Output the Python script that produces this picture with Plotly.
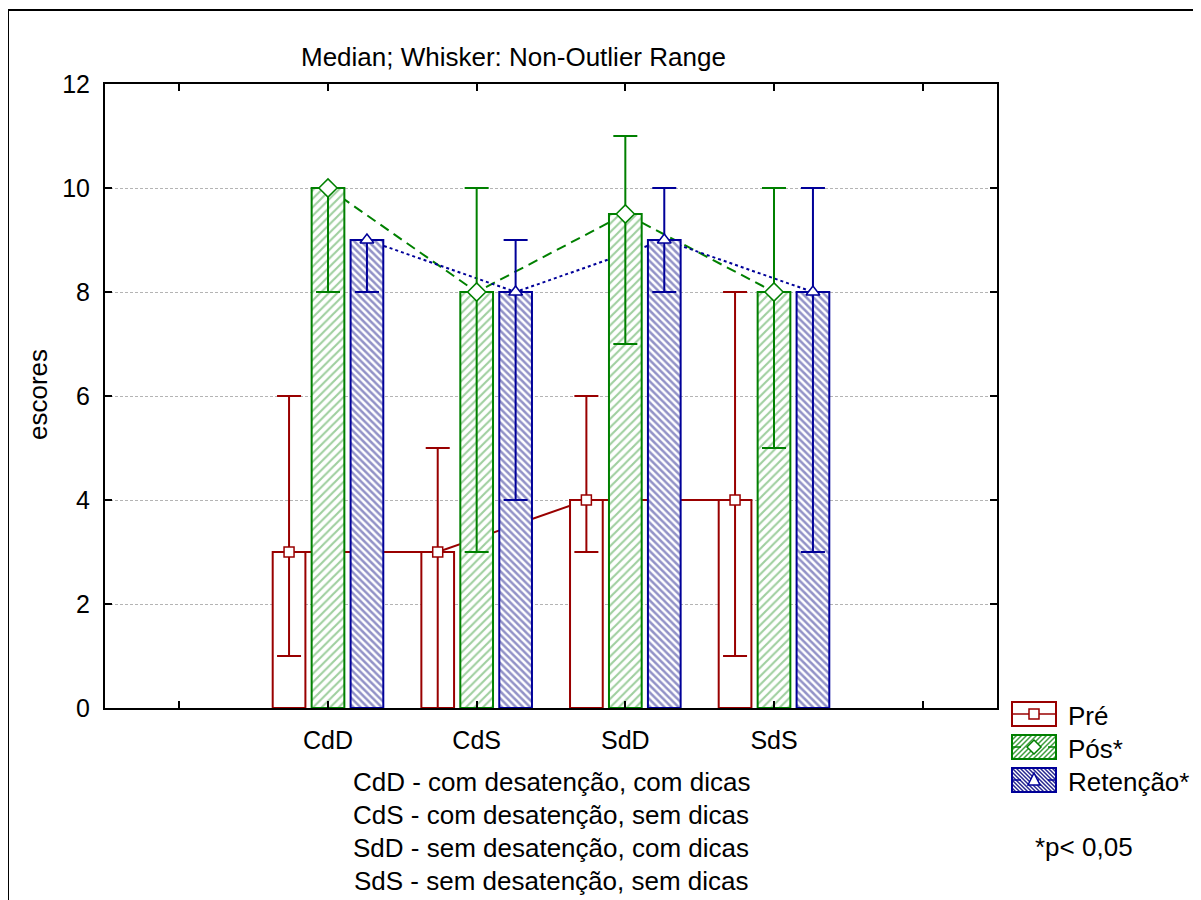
import plotly.graph_objects as go

# ---------------- data ----------------
categories = ["CdD", "CdS", "SdD", "SdS"]
pre_med = [3, 3, 4, 4]
pre_lo = [1, 0, 3, 1]
pre_hi = [6, 5, 6, 8]
pos_med = [10, 8, 9.5, 8]
pos_lo = [8, 3, 7, 5]
pos_hi = [10, 10, 11, 10]
ret_med = [9, 8, 9, 8]
ret_lo = [8, 4, 8, 3]
ret_hi = [9, 9, 10, 10]
series_names = ["Pré", "Pós*", "Retenção*"]
footnotes = [
    "CdD - com desatenção, com dicas",
    "CdS - com desatenção, sem dicas",
    "SdD - sem desatenção, com dicas",
    "SdS - sem desatenção, sem dicas",
]

# ---------------- style ----------------
FONT = "Arial, Liberation Sans, sans-serif"
RED, GREEN, BLUE = "#990000", "#008000", "#000099"
PAGE_OFF = 8  # page body margin
PL, PR, PT, PB = 105, 997, 84, 708
W, H = PR - PL, PB - PT
OFF, BW = 0.262, 0.22
TXT = 26


def px(x):
    return (x - PL) / W


def py(y):
    return (PB - y) / H


cat_x = [i + 1 for i in range(len(categories))]

series = [
    dict(name=series_names[0], med=pre_med, lo=pre_lo, hi=pre_hi, off=-OFF, color=RED,
         pattern=None, symbol="square", msize=10, dash="solid"),
    dict(name=series_names[1], med=pos_med, lo=pos_lo, hi=pos_hi, off=0.0, color=GREEN,
         pattern=dict(shape="/", fgcolor="#3f9f3f", bgcolor="white", size=6, solidity=0.35),
         symbol="diamond", msize=14, dash="10px,6px"),
    dict(name=series_names[2], med=ret_med, lo=ret_lo, hi=ret_hi, off=OFF, color=BLUE,
         pattern=dict(shape="\\", fgcolor="#26268f", bgcolor="white", size=5, solidity=0.5),
         symbol="triangle-up", msize=12, dash="3px,3px"),
]

fig = go.Figure()

# connecting lines (base subplot, drawn beneath bars)
for s in series:
    xs = [c + s["off"] for c in cat_x]
    fig.add_trace(go.Scatter(x=xs, y=s["med"], mode="lines", xaxis="x", yaxis="y",
                             line=dict(color=s["color"], width=2, dash=s["dash"]),
                             hoverinfo="skip", showlegend=False))

# bars with whiskers (overlay subplot)
for s in series:
    xs = [c + s["off"] for c in cat_x]
    marker = dict(color="white", line=dict(color=s["color"], width=2))
    if s["pattern"]:
        marker["pattern"] = s["pattern"]
    fig.add_trace(go.Bar(
        x=xs, y=s["med"], width=BW, xaxis="x2", yaxis="y2", marker=marker,
        error_y=dict(type="data", symmetric=False,
                     array=[h - m for h, m in zip(s["hi"], s["med"])],
                     arrayminus=[m - l for m, l in zip(s["med"], s["lo"])],
                     color=s["color"], thickness=2, width=12),
        showlegend=False, name=s["name"]))

# median markers on top
for s in series:
    xs = [c + s["off"] for c in cat_x]
    fig.add_trace(go.Scatter(x=xs, y=s["med"], mode="markers", xaxis="x2", yaxis="y2",
                             marker=dict(symbol=s["symbol"], size=s["msize"], color="white",
                                         line=dict(color=s["color"], width=1.5)),
                             showlegend=False, name=s["name"]))

axis_common = dict(showline=True, linewidth=2, linecolor="black", mirror="ticks",
                   ticks="inside", ticklen=7, tickwidth=2, tickcolor="black",
                   zeroline=False, tickfont=dict(family=FONT, size=25, color="black"))

fig.update_layout(
    width=1201, height=900,
    margin=dict(l=PL - PAGE_OFF, r=1201 - (PR - PAGE_OFF), t=PT - PAGE_OFF,
                b=900 - (PB - PAGE_OFF)),
    paper_bgcolor="white", plot_bgcolor="white",
    showlegend=False, barmode="overlay",
    font=dict(family=FONT, size=TXT, color="black"),
    xaxis=dict(range=[-0.5, 5.5], tickmode="array", tickvals=[0] + cat_x + [5],
               ticktext=[""] + categories + [""], showgrid=False,
               ticklabelstandoff=9, **axis_common),
    yaxis=dict(range=[0, 12], tickmode="linear", tick0=0, dtick=2, showgrid=True,
               gridcolor="#b4b4b4", gridwidth=1, griddash="3px,2px",
               ticklabelstandoff=8, **axis_common),
    xaxis2=dict(range=[-0.5, 5.5], overlaying="x", anchor="y2", visible=False),
    yaxis2=dict(range=[0, 12], overlaying="y", anchor="x2", visible=False),
)

annotations = [
    dict(text="Median; Whisker: Non-Outlier Range", x=px(513), y=py(57),
         xref="paper", yref="paper", showarrow=False, font=dict(size=TXT),
         xanchor="center", yanchor="middle"),
    dict(text="escores", x=px(38), y=py(395), xref="paper", yref="paper",
         showarrow=False, textangle=-90, font=dict(size=TXT),
         xanchor="center", yanchor="middle"),
    dict(text="*p< 0,05", x=px(1033), y=py(847), xref="paper", yref="paper",
         showarrow=False, font=dict(size=TXT), xanchor="left", yanchor="middle"),
]
for i, t in enumerate(footnotes):
    annotations.append(dict(text=t, x=px(551), y=py(782 + 33 * i), xref="paper", yref="paper",
                            showarrow=False, font=dict(size=TXT),
                            xanchor="center", yanchor="middle"))

shapes = [
    # outer frame
    dict(type="path", xref="paper", yref="paper",
         path=f"M {px(8)},{py(920)} L {px(8)},{py(10)} L {px(1220)},{py(10)}",
         line=dict(color="black", width=2)),
]

# legend
LX0, LX1 = 1012, 1056
centers = [714, 747, 780]
for s, cy in zip(series, centers):
    y0, y1 = cy - 12, cy + 12
    if s["pattern"]:
        seg = []
        if s["pattern"]["shape"] == "/":
            step = 5
            c = LX0 + y0
            while c < LX1 + y1:
                xs_ = max(LX0, c - y1)
                xe_ = min(LX1, c - y0)
                if xs_ < xe_:
                    seg.append(f"M {px(xs_)},{py(c - xs_)} L {px(xe_)},{py(c - xe_)}")
                c += step
        else:
            step = 4
            d = y0 - LX1
            while d < y1 - LX0:
                xs_ = max(LX0, y0 - d)
                xe_ = min(LX1, y1 - d)
                if xs_ < xe_:
                    seg.append(f"M {px(xs_)},{py(xs_ + d)} L {px(xe_)},{py(xe_ + d)}")
                d += step
        shapes.append(dict(type="path", xref="paper", yref="paper", path=" ".join(seg),
                           line=dict(color=s["pattern"]["fgcolor"], width=1.5)))
    shapes.append(dict(type="rect", xref="paper", yref="paper",
                       x0=px(LX0), x1=px(LX1), y0=py(y1), y1=py(y0),
                       line=dict(color=s["color"], width=2), fillcolor="rgba(0,0,0,0)"))
    shapes.append(dict(type="line", xref="paper", yref="paper",
                       x0=px(LX0), x1=px(LX1), y0=py(cy), y1=py(cy),
                       line=dict(color=s["color"], width=1.5,
                                 dash="solid" if s["dash"] == "solid" else "dash")))
    mx = (LX0 + LX1) / 2
    if s["symbol"] == "square":
        shapes.append(dict(type="rect", xref="paper", yref="paper",
                           x0=px(mx - 5), x1=px(mx + 5), y0=py(cy + 5), y1=py(cy - 5),
                           line=dict(color=s["color"], width=1.5), fillcolor="white"))
    elif s["symbol"] == "diamond":
        shapes.append(dict(type="path", xref="paper", yref="paper",
                           path=f"M {px(mx - 7)},{py(cy)} L {px(mx)},{py(cy - 7)} L {px(mx + 7)},{py(cy)} L {px(mx)},{py(cy + 7)} Z",
                           line=dict(color=s["color"], width=1.5), fillcolor="white"))
    else:
        shapes.append(dict(type="path", xref="paper", yref="paper",
                           path=f"M {px(mx - 6)},{py(cy + 5)} L {px(mx)},{py(cy - 7)} L {px(mx + 6)},{py(cy + 5)} Z",
                           line=dict(color=s["color"], width=1.5), fillcolor="white"))
    annotations.append(dict(text=s["name"], x=px(1066), y=py(cy + 2), xref="paper", yref="paper",
                            showarrow=False, font=dict(size=TXT),
                            xanchor="left", yanchor="middle"))

fig.update_layout(annotations=annotations, shapes=shapes)

fig.write_html("out.html")
